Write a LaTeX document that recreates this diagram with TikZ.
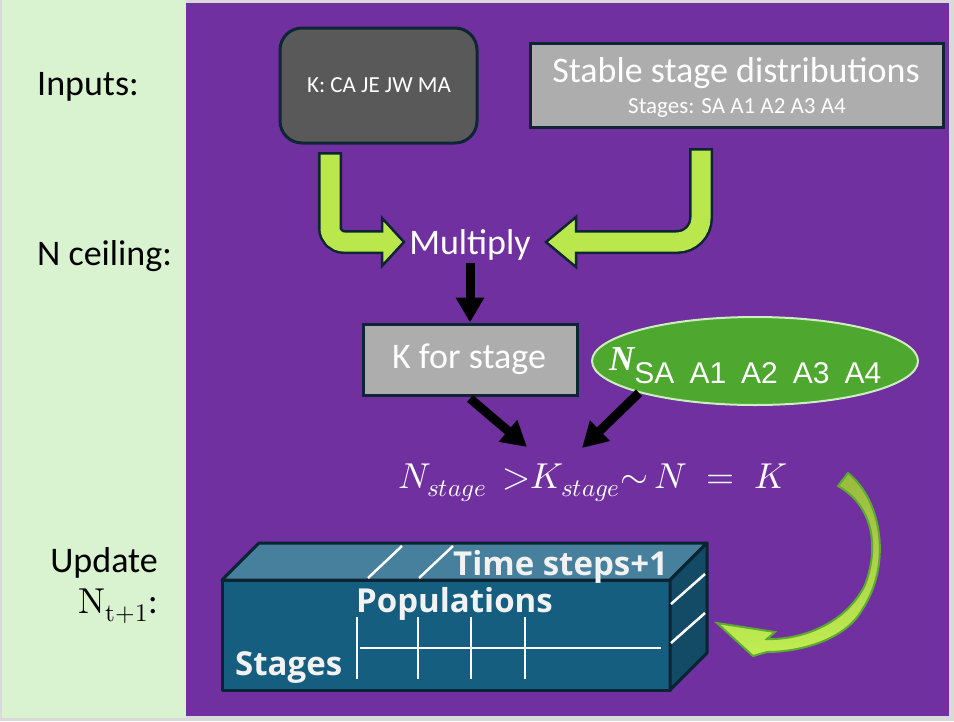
\documentclass[tikz,border=0pt]{standalone}
\usepackage{fontspec}
\usepackage{unicode-math}
\setmainfont{Carlito}
\setmathfont{Latin Modern Math}
\newfontfamily\cubefont{Open Sans}
\newfontfamily\arialfont{Liberation Sans}
\newfontfamily\timesfont{Liberation Serif}
\usetikzlibrary{arrows.meta,shapes.geometric}

\definecolor{framegray}{RGB}{217,217,217}
\definecolor{panelgreen}{RGB}{217,242,208}
\definecolor{panelpurple}{RGB}{112,48,160}
\definecolor{inputgray}{RGB}{89,89,89}
\definecolor{boxgray}{RGB}{173,173,173}
\definecolor{edgenavy}{RGB}{14,38,52}
\definecolor{arrowlime}{RGB}{186,232,76}
\definecolor{curveolive}{RGB}{152,186,62}
\definecolor{curvelime}{RGB}{192,238,82}
\definecolor{curveedge}{RGB}{92,170,50}
\definecolor{ellipsegreen}{RGB}{78,167,46}
\definecolor{ellipseedge}{RGB}{205,238,190}
\definecolor{cubefront}{RGB}{22,94,128}
\definecolor{cubetop}{RGB}{70,128,156}
\definecolor{cubeside}{RGB}{19,74,101}
\definecolor{cubeedge}{RGB}{9,36,50}
\definecolor{cubewhite}{RGB}{242,242,242}

\tikzset{
  rowlabel/.style={font=\fontsize{36}{40}\selectfont, inner sep=0, anchor=base west},
  greybox/.style={draw=edgenavy, line width=3pt, fill=boxgray},
  whitetext/.style={text=white, inner sep=0, anchor=base},
  blackarrow/.style={-{Triangle[length=25pt,width=27pt]}, line width=9pt, black},
  cubetext/.style={font=\cubefont\bfseries\fontsize{33}{36}\selectfont, text=cubewhite, inner sep=0, anchor=base west},
  cubeline/.style={white, line width=2.5pt},
  cubeface/.style={draw=cubeedge, line width=3pt, line join=round},
}

\begin{document}
\begin{tikzpicture}[x=1pt, y=-1pt]
\useasboundingbox (0,0) rectangle (954,721);
\fill[framegray] (0,0) rectangle (954,721);
\fill[panelgreen] (2,0) rectangle (186,718);
\fill[panelpurple] (186,3) rectangle (949,716);

% row labels
\node[rowlabel] (inputs) at (37,95) {Inputs:};
\node[rowlabel] (ceiling) at (37,265) {N ceiling:};
\node[rowlabel, anchor=base east] (update) at (158,572) {Update};
\node[rowlabel, anchor=base east] (nnext) at (158,613) {$\symup{N}_{\symup{t}+1}$:};

% inputs
\node[greybox, fill=inputgray, rounded corners=22pt, minimum width=197pt, minimum height=115pt] (kinput) at (378.5,85.5) {};
\node[whitetext, font=\fontsize{23}{26}\selectfont] (kinputtext) at (379,92) {K: CA JE JW MA};
\node[greybox, minimum width=413pt, minimum height=84pt] (stable) at (736.5,85) {};
\node[whitetext, font=\fontsize{36}{40}\selectfont] (stabletitle) at (736,82) {Stable stage distributions};
\node[whitetext, font=\fontsize{23}{26}\selectfont] (stablestages) at (737,113) {Stages: SA A1 A2 A3 A4};

% multiply
\node[text=white, font=\fontsize{36}{40}\selectfont, anchor=base] (mult) at (470,254) {Multiply};

% bent arrows into Multiply
\draw[line width=24pt, edgenavy, rounded corners=14pt] (330,152) -- (330,242) -- (386,242);
\filldraw[fill=arrowlime, draw=edgenavy, line width=2.5pt] (382,218) -- (404,242) -- (382,266) -- cycle;
\draw[line width=19pt, arrowlime, rounded corners=14pt] (330,154.5) -- (330,242) -- (388,242);

\draw[line width=24pt, edgenavy, rounded corners=24pt] (701,148) -- (701,242) -- (572,242);
\filldraw[fill=arrowlime, draw=edgenavy, line width=2.5pt] (576,217) -- (546,242) -- (576,267) -- cycle;
\draw[line width=19pt, arrowlime, rounded corners=24pt] (701,150.5) -- (701,242) -- (570,242);

% K for stage and N
\node[greybox, minimum width=214pt, minimum height=71pt] (kstage) at (470,359.5) {};
\node[whitetext, font=\fontsize{36}{40}\selectfont] (kstagetext) at (469,368) {K for stage};
\node[ellipse, draw=ellipseedge, line width=2pt, fill=ellipsegreen, minimum width=326pt, minimum height=88pt, inner sep=0] (nell) at (755,361) {};
\node[text=white, inner sep=0, anchor=base west] (nelltext) at (609,370) {{\timesfont\bfseries\itshape\fontsize{35}{40}\selectfont N}\raisebox{-13pt}{\arialfont\fontsize{30}{32}\selectfont SA\hspace{15pt}A1\hspace{15pt}A2\hspace{15pt}A3\hspace{15pt}A4}};

\draw[blackarrow] (mult.south) -- (kstage.north);
\coordinate (tipk) at (527,447);
\coordinate (tipn) at (582,448);
\draw[blackarrow] ([yshift=-2pt]kstage.south) -- (tipk);
\draw[blackarrow] (nell.south west) -- (tipn);

% condition
\node[text=white, font=\fontsize{36}{42}\selectfont, inner sep=0, anchor=base west] (cond) at (398,488) {$N_{stage}\ \ {>}K_{stage}{\sim}\,N\;=\;K$};

% curved arrow back to the array
\path[draw=curveedge, line width=2pt, top color=curveolive, bottom color=curvelime]
  (848,473) .. controls (882,500) and (892,565) .. (862,610)
  .. controls (845,640) and (800,652) .. (767,652) -- (753,656) -- (717,623) -- (775,632) -- (767,639)
  .. controls (800,640) and (845,625) .. (865,585)
  .. controls (880,545) and (872,505) .. (838,486) -- cycle;

% population array
\filldraw[cubeface, fill=cubefront] (222,580) rectangle (670,690);
\filldraw[cubeface, fill=cubetop] (222,580) -- (259,543) -- (707,543) -- (670,580) -- cycle;
\filldraw[cubeface, fill=cubeside] (670,580) -- (707,543) -- (707,653) -- (670,690) -- cycle;
\draw[cubeline] (368,578) -- (402,546);
\draw[cubeline] (419,578) -- (453,546);
\draw[cubeline] (671,604) -- (705,574);
\draw[cubeline] (671,643) -- (705,613);
\foreach \gx in {357,418,471,525}
  \draw[cubeline] (\gx,617) -- (\gx,679);
\draw[cubeline] (360,648) -- (661,648);
\node[cubetext] (timesteps) at (453,575) {Time steps+1};
\node[cubetext] (populations) at (356,612) {Populations};
\node[cubetext] (stages) at (235,675) {Stages};

\end{tikzpicture}
\end{document}
